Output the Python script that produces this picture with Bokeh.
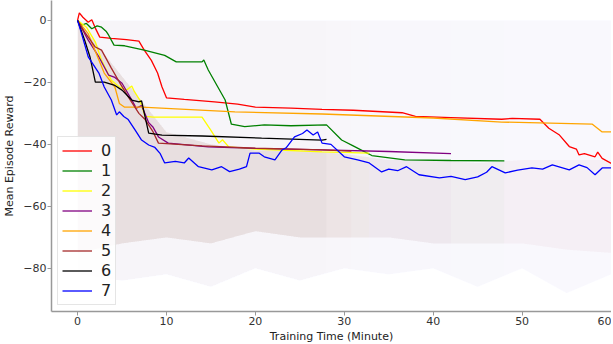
from bokeh.plotting import figure
from bokeh.models import Legend, LegendItem, FixedTicker, Title
from bokeh.embed import file_html
from bokeh.resources import INLINE

# ---- data ----
series_names = ["0", "1", "2", "3", "4", "5", "6", "7"]
series_colors = ["red", "green", "yellow", "purple", "orange", "brown", "black", "blue"]

t0 = [0, 0.2, 0.6, 1.2, 1.6, 2.0, 2.5, 3.8, 5.5, 6.9, 7.5, 8.3, 9.0, 9.5, 10.0, 12, 15.4, 18, 20, 24,
      27.5, 31, 36.5, 38, 42, 47.7, 48.9, 52, 53, 54.2, 55.3, 56.1, 56.4, 57, 58.2, 58.5, 59, 60.1]
y0 = [0, 2.4, 1, -0.6, 0.2, -2.5, -5.4, -5.8, -6.2, -6.7, -9.6, -12.9, -17, -21.5, -25, -25.5, -26.3, -27, -28, -28.3,
      -28.7, -29, -29.8, -31, -31.4, -31.9, -31.6, -31.9, -34.8, -37, -40.7, -41.5, -43.4, -43, -44, -42.5, -44.5, -46.3]

t1 = [0, 0.5, 1.0, 1.6, 2.2, 2.7, 3.2, 3.5, 4.1, 5.3, 7.5, 9.8, 11.1, 14.0, 14.2, 14.7, 16.6, 17.3, 18.8, 21,
      24, 28, 29.7, 31, 32.3, 33.1, 36.8, 42, 48]
y1 = [0, -1.5, -1, -2.7, -1.8, -2.2, -3.5, -4.8, -8, -8.2, -9.6, -11.3, -13.4, -13.4, -12.8, -16, -25.7, -33.5, -34.3, -33.7,
      -34, -33.7, -38.6, -40.5, -42.4, -43.6, -45, -45.2, -45.3]

t2 = [0, 1.0, 2.0, 2.7, 3.8, 4.7, 5.5, 6.1, 6.4, 7.0, 7.6, 8.5, 14.0, 15.0, 15.9, 16.3, 17.0, 20, 27.5, 32.8]
y2 = [0, -2.2, -7, -12.9, -19.3, -21.5, -22.5, -21.2, -23, -25.7, -31, -31.2, -31.2, -35.5, -39.6, -38.5, -40.8, -41.5, -42.4, -42.8]

t3 = [0, 1.2, 2.4, 3.5, 4.2, 5.0, 6.1, 6.6, 7.2, 8.0, 8.5, 9.1, 10.2, 14.7, 20, 27.5, 35, 42]
y3 = [0, -6.4, -11.8, -17.7, -18.4, -20.3, -25.7, -28.3, -27.5, -33, -34.5, -37.6, -39.6, -40.8, -41.3, -41.8, -42.3, -43]

t4 = [0, 1.2, 1.8, 3.0, 4.2, 4.7, 5.3, 7.2, 17.7, 27.5, 40, 47.7, 57.9, 59, 60.1]
y4 = [0, -4.3, -8.6, -17, -21.5, -26.8, -28, -28, -29.5, -30.2, -31.5, -32.8, -33.5, -36, -36]

t5 = [0, 0.8, 2.0, 2.7, 3.8, 4.7, 5.7, 6.9, 7.6, 8.5, 9.1, 14.0, 20, 27.5, 30.8]
y5 = [0, -3.8, -8.6, -9.6, -15.4, -19.9, -24.7, -30, -32, -36, -39.6, -40.5, -41.2, -41.8, -42.2]

t6 = [0, 0.8, 1.4, 2.0, 3.0, 4.2, 5.0, 6.1, 6.9, 7.2, 8.0, 9.5, 14.0, 20.7, 27.5, 28]
y6 = [0, -6.4, -11.8, -19.9, -19.9, -21, -22.5, -25.7, -26.3, -26, -36.4, -37, -37.3, -38, -38.6, -38.4]

t7 = [0, 0.45, 1.2, 2.4, 3.0, 3.8, 4.4, 4.7, 5.2, 5.7, 6.5, 7.2, 8.0, 8.7, 9.3, 9.8, 11.0, 12.0, 12.5, 13.6,
      15.1, 16.2, 17.1, 18.2, 19.0, 19.4, 20.4, 21.0, 22.2, 23.0, 23.5, 24.4, 25.3, 25.8, 26.5, 27.0, 27.5, 28.5,
      30.0, 31.5, 32.8, 34.2, 35.0, 36.0, 37.0, 38.4, 40.7, 42.0, 43.6, 45.0, 46.0, 46.6, 48.1, 49.5, 51.1, 52.3,
      53.4, 55.3, 56.4, 57.3, 58.2, 59.0, 60.1]
y7 = [0, -4.3, -11.8, -17, -21.5, -25.7, -30.5, -29.5, -31, -32, -35.5, -38.6, -40.2, -41, -43, -46, -45.5, -46, -44.4, -47.2,
      -48.2, -47.2, -48.8, -48, -47.2, -42.8, -42.8, -44, -45, -41.8, -41, -37.6, -36.5, -35.4, -37, -36, -39.6, -40,
      -44, -45, -46, -48.9, -48, -48.5, -47.2, -49.8, -50.8, -50.3, -51.4, -50.5, -49, -47.2, -49.2, -48.3, -47.6, -48,
      -46.6, -48.2, -46.6, -47.5, -49.8, -47.6, -47.6]

series_t = [t0, t1, t2, t3, t4, t5, t6, t7]
series_y = [y0, y1, y2, y3, y4, y5, y6, y7]

# faint envelope of the raw (noisy) episode rewards behind the smoothed lines
band_t = [0, 5, 10, 15, 20, 25, 30, 35, 40, 45, 50, 55, 60]
dense_hi = [0, -18, -36, -40, -42, -42, -43, -45, -45, -46, -45, -45, -45]
dense_lo = [-75, -72, -70, -72, -68, -70, -70, -70, -72, -72, -72, -74, -75]
spike_hi = [0, 0, 0, 0, 0, 0, 0, 0, 0, 0, 0, 0, 0]
spike_lo = [-82, -84, -82, -86, -80, -84, -80, -82, -80, -86, -80, -88, -82]

x_ticks = [0, 10, 20, 30, 40, 50, 60]
y_ticks = [0, -20, -40, -60, -80]
y_tick_labels = ["0", "\u221220", "\u221240", "\u221260", "\u221280"]
x_title = "Training Time (Minute)"
y_title = "Mean Episode Reward"

FONT = "DejaVu Sans"
Y0, Y1 = -93.9, 6.4
X0, X1 = -2.93, 60.05

p = figure(width=611, height=342, output_backend="svg", toolbar_location=None,
           x_range=(X0, X1), y_range=(Y0, Y1),
           min_border_left=0, min_border_right=0, min_border_top=0, min_border_bottom=0)
p.outline_line_color = None
p.xgrid.visible = False
p.ygrid.visible = False


def band_part(arr, bx):
    out = []
    for x in bx:
        for i in range(len(band_t) - 1):
            if band_t[i] <= x <= band_t[i + 1]:
                f = (x - band_t[i]) / (band_t[i + 1] - band_t[i])
                out.append(arr[i] + f * (arr[i + 1] - arr[i]))
                break
    return out


# background bands
for name, col, ts in zip(series_names, series_colors, series_t):
    tend = ts[-1]
    bx = [t for t in band_t if t <= tend] + ([tend] if tend not in band_t else [])
    sa = 0.025 if col == "blue" else 0.005
    p.varea(x=bx, y1=band_part(spike_lo, bx), y2=band_part(spike_hi, bx), fill_color=col, fill_alpha=sa)
    p.varea(x=bx, y1=band_part(dense_lo, bx), y2=band_part(dense_hi, bx), fill_color=col, fill_alpha=0.016)

items = []
for name, col, ts, ys in zip(series_names, series_colors, series_t, series_y):
    r = p.line(ts, ys, line_color=col, line_width=1.3)
    items.append(LegendItem(label=name, renderers=[r]))

legend = Legend(items=items, location="bottom_left")
legend.label_text_font = FONT
legend.label_text_font_size = "16px"
legend.label_text_color = "#222222"
legend.glyph_width = 30
legend.glyph_height = 19
legend.label_height = 19
legend.label_width = 10
legend.spacing = 1
legend.padding = 4
legend.margin = 6
legend.label_standoff = 9
legend.border_line_color = "#cccccc"
legend.background_fill_alpha = 0.85
p.add_layout(legend)

for ax in (p.xaxis[0], p.yaxis[0]):
    ax.axis_line_color = "#999999"
    ax.axis_line_width = 1.5
    ax.major_tick_line_color = "#999999"
    ax.major_tick_out = 4
    ax.major_tick_in = 0
    ax.minor_tick_line_color = None
    ax.major_label_text_font = FONT
    ax.major_label_text_font_size = "11px"
    ax.major_label_text_color = "#333333"
    ax.axis_label_text_font = FONT
    ax.axis_label_text_font_size = "11px"
    ax.axis_label_text_font_style = "normal"
    ax.axis_label_text_color = "#222222"
    ax.major_label_standoff = 1
    ax.axis_label_standoff = 4

p.xaxis.ticker = FixedTicker(ticks=x_ticks)
p.yaxis.ticker = FixedTicker(ticks=y_ticks)
p.yaxis.major_label_overrides = {v: s for v, s in zip(y_ticks, y_tick_labels)}
p.yaxis.axis_label = y_title

xt = Title(text=x_title, align="center", standoff=0, offset=0,
           text_font=FONT, text_font_size="11px", text_font_style="normal", text_color="#222222")
p.add_layout(xt, "below")

open("out.html", "w").write(file_html(p, INLINE))
